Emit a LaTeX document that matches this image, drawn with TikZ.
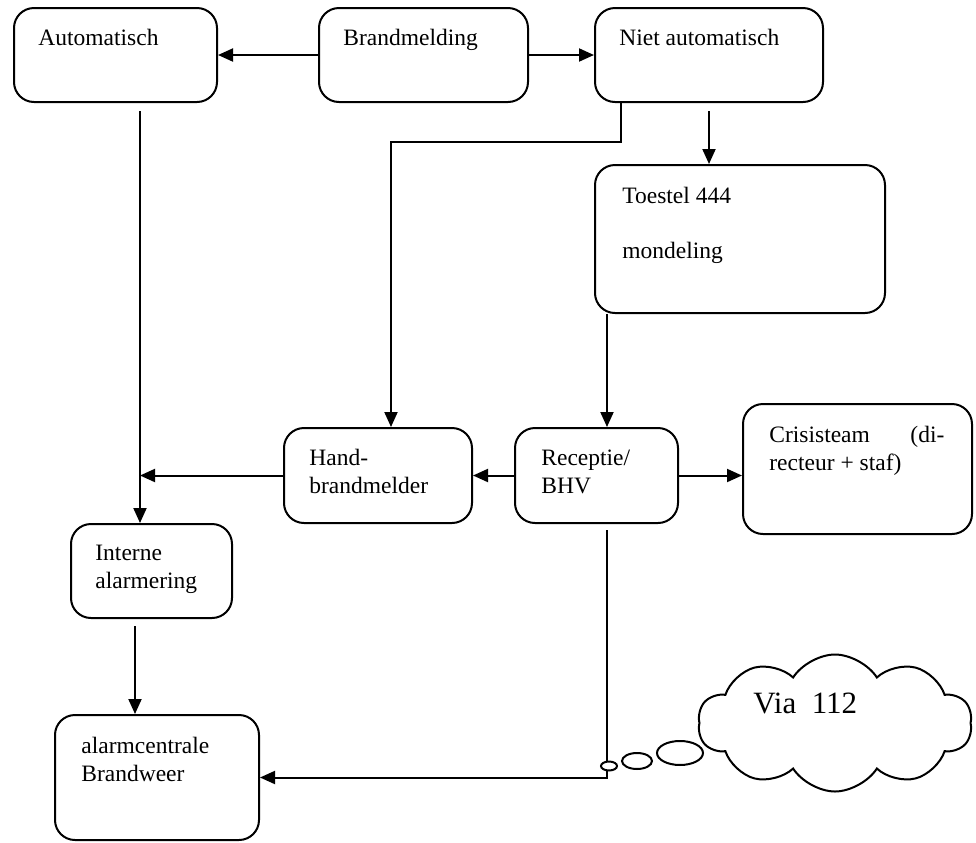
\documentclass[tikz,border=0pt]{standalone}
\usepackage{fontspec}
\setmainfont{Liberation Serif}
\usetikzlibrary{arrows.meta, positioning, fit, shapes.symbols}
\newcommand{\boxfont}{\fontsize{11.75pt}{14pt}\selectfont}
\newcommand{\cloudfont}{\fontsize{15.5pt}{18pt}\selectfont}

\begin{document}
\begin{tikzpicture}[x=0.5pt, y=-0.5pt,
  flowbox/.style={draw, line width=1pt, rounded corners=10pt, inner sep=0pt},
  boxlabel/.style={anchor=base west, inner sep=0pt, align=left, font=\boxfont},
  arr/.style={line width=1pt, -{Triangle[length=7.5pt, width=6.5pt]}}]
  \useasboundingbox (0,0) rectangle (976,842);
  % ============ boxes ============
  \node[flowbox, fit={(14,8) (217,102)}] (auto) {};
  \node[flowbox, fit={(319,8) (528,102)}] (brand) {};
  \node[flowbox, fit={(595,8) (823,102)}] (niet) {};
  \node[flowbox, fit={(595,165) (885,313)}] (toestel) {};
  \node[flowbox, fit={(284,428) (472,523)}] (hand) {};
  \node[flowbox, fit={(515,428) (678,523)}] (recept) {};
  \node[flowbox, fit={(743,404) (972,534)}] (crisis) {};
  \node[flowbox, fit={(71,524) (232,618)}] (intern) {};
  \node[flowbox, fit={(55,715) (259,840)}] (alarm) {};
  % ============ texts (base = last line) ============
  \node[boxlabel] (autoT) at (38,45) {Automatisch};
  \node[boxlabel] (brandT) at (343,45) {Brandmelding};
  \node[boxlabel] (nietT) at (619,45) {Niet automatisch};
  \node[boxlabel] (toestelT) at (622,258) {Toestel 444\\[13.5pt]mondeling};
  \node[boxlabel] (handT) at (309,493) {Hand-\\brandmelder};
  \node[boxlabel] (receptT) at (541,493) {Receptie/\\BHV};
  \node[boxlabel] (crisisT) at (769,470) {\makebox[87.5pt][s]{Crisisteam\hfill(di-}\\recteur + staf)};
  \node[boxlabel] (internT) at (95,588) {Interne\\alarmering};
  \node[boxlabel] (alarmT) at (81,781) {alarmcentrale\\Brandweer};
  % ============ connectors ============
  \coordinate (autoTap) at (140,111);
  \coordinate (nietTap) at (621,102);
  \coordinate (handIn) at (391,142);
  \coordinate (nietOut) at (709,111);
  \coordinate (receptX) at (607,0);
  \coordinate (receptOut) at (607,530);
  \coordinate (internOut) at (135,626);
  \draw[arr] (brand) -- (auto);
  \draw[arr] (brand) -- (niet);
  \draw[arr] (autoTap) -- (intern.north -| autoTap);
  \draw[arr] (nietTap) |- (handIn) -- (hand.north -| handIn);
  \draw[arr] (nietOut) -- (toestel.north -| nietOut);
  \draw[arr] (toestel.south -| receptX) -- (recept.north -| receptX);
  \draw[arr] (recept) -- (hand);
  \draw[arr] (recept.east) -- (recept.east -| crisis.west);
  \draw[arr] (hand.west) -- (hand.west -| autoTap);
  \draw[arr] (internOut) -- (alarm.north -| internOut);
  \draw[arr] (receptOut) |- (alarm.east);
  % ============ cloud ============
  \node[cloud, draw, line width=1pt, cloud puffs=10, cloud puff arc=115, aspect=2,
        minimum width=137pt, minimum height=68.5pt, inner sep=0pt] (cloud) at (835,723) {};
  \node[anchor=base west, inner sep=0pt, font=\cloudfont] (via) at (753,713) {Via\ \ 112};
  \draw[line width=1pt, fill=white] (680,753) ellipse (23 and 12);
  \draw[line width=1pt, fill=white] (637,761) ellipse (15 and 8);
  \draw[line width=1pt, fill=white] (609,766) ellipse (8 and 4.5);
\end{tikzpicture}
\end{document}
